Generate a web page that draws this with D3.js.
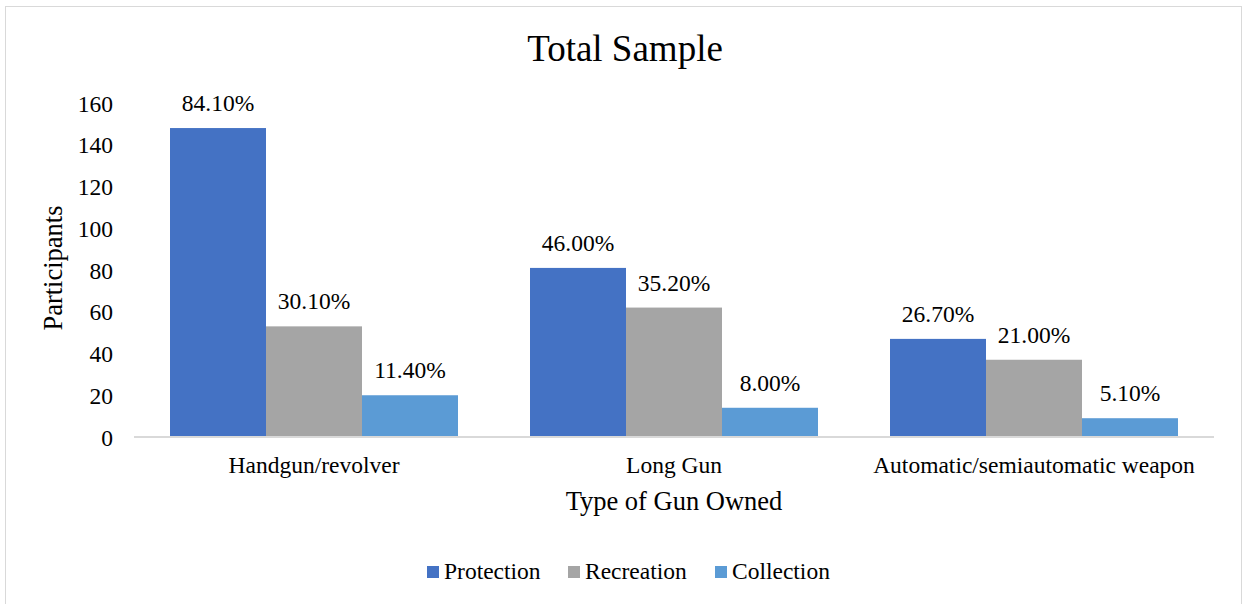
<!DOCTYPE html>
<html>
<head>
<meta charset="utf-8">
<script src="https://cdn.jsdelivr.net/npm/d3@7/dist/d3.min.js"></script>
<style>
  html, body { margin: 0; padding: 0; background: #fff; }
  svg { display: block; }
  svg text { font-family: "Liberation Serif", Tinos, "Times New Roman", "Nimbus Roman", "DejaVu Serif", serif !important; fill: #000; }
</style>
</head>
<body>
<svg id="chart" width="1243" height="604"></svg>
<script>
// Gun ownership by reason, total sample
const categories = ["Handgun/revolver", "Long Gun", "Automatic/semiautomatic weapon"];
const seriesNames = ["Protection", "Recreation", "Collection"];
// participant counts per reason
const protection = [148, 81, 47];
const recreation = [53, 62, 37];
const collection = [20, 14, 9];
// share of the sample, in percent
const protectionPct = [84.1, 46.0, 26.7];
const recreationPct = [30.1, 35.2, 21.0];
const collectionPct = [11.4, 8.0, 5.1];
const yTicks = [0, 20, 40, 60, 80, 100, 120, 140, 160];
const colors = ["#4472C4", "#A5A5A5", "#5B9BD5"];

const seriesValues = [protection, recreation, collection];
const seriesPct = [protectionPct, recreationPct, collectionPct];
const rows = categories.map((c, i) => ({
  category: c,
  values: seriesNames.map((s, j) => ({ series: s, value: seriesValues[j][i], pct: seriesPct[j][i] }))
}));

const svg = d3.select("#chart");
const W = 1243, H = 604;
const labelSize = "23.5px";

// chart frame
svg.append("rect")
  .attr("x", 5.5).attr("y", 6.5)
  .attr("width", W - 7).attr("height", H)
  .attr("fill", "#fff").attr("stroke", "#d9d9d9").attr("stroke-width", 1);

const plot = { left: 134, right: 1214, top: 103, bottom: 437 };

const x0 = d3.scaleBand()
  .domain(categories)
  .range([plot.left, plot.right])
  .paddingInner(0.2)
  .paddingOuter(0.1);
const x1 = d3.scaleBand()
  .domain(seriesNames)
  .range([0, x0.bandwidth()]);
const y = d3.scaleLinear().domain([0, 160]).range([plot.bottom, plot.top]);
const color = d3.scaleOrdinal().domain(seriesNames).range(colors);

// y axis (labels only)
const yAxis = svg.append("g")
  .attr("transform", `translate(${plot.left - 21},0)`)
  .call(d3.axisLeft(y).tickValues(yTicks).tickSize(0).tickPadding(0));
yAxis.attr("font-family", null);
yAxis.select(".domain").remove();
yAxis.selectAll("text")
  .style("font-size", labelSize)
  .attr("fill", "#000")
  .attr("dy", "0.34em");

// bars
const groups = svg.append("g").selectAll("g")
  .data(rows)
  .join("g")
  .attr("transform", d => `translate(${x0(d.category)},0)`);

groups.selectAll("rect")
  .data(d => d.values)
  .join("rect")
  .attr("x", d => x1(d.series))
  .attr("width", x1.bandwidth())
  .attr("y", d => y(d.value))
  .attr("height", d => y(0) - y(d.value))
  .attr("fill", d => color(d.series));

// percentage labels
groups.selectAll("text")
  .data(d => d.values)
  .join("text")
  .attr("x", d => x1(d.series) + x1.bandwidth() / 2)
  .attr("y", d => y(d.value) - 17)
  .attr("text-anchor", "middle")
  .style("font-size", labelSize)
  .text(d => d.pct.toFixed(2) + "%");

// x axis baseline
const xAxis = svg.append("g")
  .attr("transform", `translate(0,${plot.bottom})`)
  .call(d3.axisBottom(x0).tickSize(0).tickPadding(0));
xAxis.attr("font-family", null);
xAxis.select(".domain")
  .attr("stroke", "#d9d9d9").attr("stroke-width", 2)
  .attr("d", `M${plot.left},0H${plot.right}`);
xAxis.selectAll("text")
  .style("font-size", labelSize)
  .attr("fill", "#000")
  .attr("dy", null)
  .attr("y", 36);

// title
svg.append("text")
  .attr("x", 625).attr("y", 61)
  .attr("text-anchor", "middle")
  .style("font-size", "37px")
  .text("Total Sample");

// axis titles
svg.append("text")
  .attr("x", 674).attr("y", 510)
  .attr("text-anchor", "middle")
  .style("font-size", "26.5px")
  .text("Type of Gun Owned");

svg.append("text")
  .attr("transform", "translate(62,268) rotate(-90)")
  .attr("text-anchor", "middle")
  .style("font-size", "26.5px")
  .text("Participants");

// legend
const legendX = [427, 568, 715];
const legend = svg.append("g").selectAll("g")
  .data(seriesNames)
  .join("g")
  .attr("transform", (d, i) => `translate(${legendX[i]},566)`);
legend.append("rect")
  .attr("width", 12).attr("height", 12)
  .attr("fill", d => color(d));
legend.append("text")
  .attr("x", 17).attr("y", 13)
  .style("font-size", labelSize)
  .text(d => d);
</script>
</body>
</html>
